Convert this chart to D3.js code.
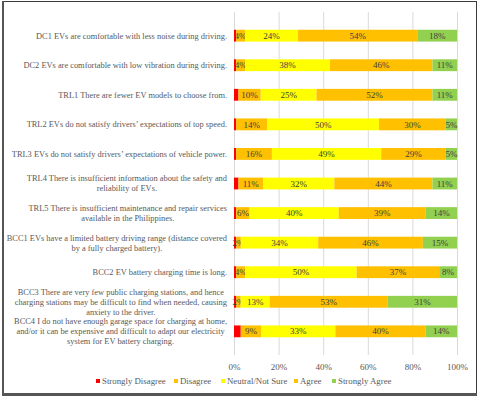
<!DOCTYPE html>
<html>
<head>
<meta charset="utf-8">
<script src="https://cdn.jsdelivr.net/npm/d3@7"></script>
<style>
  body { margin: 0; background: #fff; }
  svg { display: block; }
  svg text { font-family: "Liberation Serif", "Times New Roman", serif; }
</style>
</head>
<body>
<svg id="chart" width="480" height="397"></svg>
<script>
// category labels, one entry per line
const categories = ["DC1","DC2","TRL1","TRL2","TRL3","TRL4","TRL5","BCC1","BCC2","BCC3","BCC4"];
const catLines = [
  ["DC1 EVs are comfortable with less noise during driving."],
  ["DC2 EVs are comfortable with low vibration during driving."],
  ["TRL1 There are fewer EV models to choose from."],
  ["TRL2 EVs do not satisfy drivers\u2019 expectations of top speed."],
  ["TRL3 EVs do not satisfy drivers\u2019 expectations of vehicle power."],
  ["TRL4 There is insufficient information about the safety and", "reliability of EVs."],
  ["TRL5 There is insufficient maintenance and repair services", "available in the Philippines."],
  ["BCC1 EVs have a limited battery driving range (distance covered", "by a fully charged battery)."],
  ["BCC2 EV battery charging time is long."],
  ["BCC3 There are very few public charging stations, and hence", "charging stations may be difficult to find when needed, causing", "anxiety to the driver."],
  ["BCC4 I do not have enough garage space for charging at home,", "and/or it can be expensive and difficult to adapt our electricity", "system for EV battery charging."]
];
const seriesNames = ["Strongly Disagree","Disagree","Neutral/Not Sure","Agree","Strongly Agree"];
const colors = ["#FF0000","#FFC000","#FFFF00","#FFC000","#92D050"];
const stronglyDisagree = [1, 1, 2, 1, 1, 2, 1, 1, 1, 1, 3];
const disagree         = [4, 4, 10, 14, 16, 11, 6, 2, 4, 2, 9];
const neutral          = [24, 38, 25, 50, 49, 32, 40, 34, 50, 13, 33];
const agree            = [54, 46, 52, 30, 29, 44, 39, 46, 37, 53, 40];
const stronglyAgree    = [18, 11, 11, 5, 5, 11, 14, 15, 8, 31, 14];
const xTicks = [0, 0.2, 0.4, 0.6, 0.8, 1];

const svg = d3.select("#chart");

// frame
svg.append("rect").attr("x", 2.5).attr("y", 1.5).attr("width", 474).attr("height", 393)
  .attr("fill", "none").attr("stroke", "#3a3a3a").attr("stroke-width", 1);
svg.append("rect").attr("x", 2).attr("y", 393).attr("width", 475).attr("height", 3).attr("fill", "#555");
svg.append("rect").attr("x", 2).attr("y", 1).attr("width", 2).attr("height", 395).attr("fill", "#555");

const x = d3.scaleLinear().domain([0, 1]).range([234, 457]);
const y = d3.scaleBand().domain(categories).range([12, 355]).padding(0.6);

// gridlines
svg.append("g")
  .attr("transform", "translate(0,355)")
  .call(d3.axisBottom(x).tickValues(xTicks).tickSize(-343).tickFormat(""))
  .call(g => g.select(".domain").remove())
  .call(g => g.selectAll("line").attr("stroke", "#d9d9d9"));

// tick labels
svg.append("g")
  .attr("transform", "translate(0,355)")
  .call(d3.axisBottom(x).tickValues(xTicks).tickSize(0).tickPadding(9).tickFormat(d3.format(".0%")))
  .call(g => g.select(".domain").remove())
  .call(g => g.selectAll("text").attr("fill", "#595959").style("font-size", "9px"));

// stacked data, normalised per row
const rows = categories.map((c, i) => {
  const vals = [stronglyDisagree[i], disagree[i], neutral[i], agree[i], stronglyAgree[i]];
  const tot = d3.sum(vals);
  const r = { cat: c };
  seriesNames.forEach((s, k) => { r[s] = vals[k] / tot; r[s + "_v"] = vals[k]; });
  return r;
});
const stack = d3.stack().keys(seriesNames)(rows);

const layer = svg.selectAll(".layer")
  .data(stack)
  .enter()
  .append("g")
  .attr("class", "layer")
  .attr("fill", (d, i) => colors[i]);

layer.selectAll("rect")
  .data(d => d)
  .enter()
  .append("rect")
  .attr("x", d => x(d[0]))
  .attr("y", d => y(d.data.cat))
  .attr("width", d => x(d[1]) - x(d[0]))
  .attr("height", y.bandwidth());

// value labels (not for strongly disagree)
layer.filter((d, i) => i > 0)
  .selectAll("text")
  .data(d => d.map(p => ({ p: p, key: d.key })))
  .enter()
  .append("text")
  .attr("x", d => (x(d.p[0]) + x(d.p[1])) / 2)
  .attr("y", d => y(d.p.data.cat) + y.bandwidth() / 2)
  .attr("dy", "0.35em")
  .attr("text-anchor", "middle")
  .attr("fill", "#404040")
  .style("font-size", "9px")
  .text(d => d.p.data[d.key + "_v"] + "%");

// category labels
const lineH = 10;
const cats = svg.append("g").selectAll("text")
  .data(categories)
  .enter()
  .append("text")
  .attr("fill", "#595959")
  .style("font-size", "8.4px");
cats.each(function(c, i) {
  const lines = catLines[i];
  const t = d3.select(this);
  const cy = y(c) + y.bandwidth() / 2;
  const y0 = cy - (lines.length - 1) * lineH / 2;
  t.selectAll("tspan").data(lines).enter().append("tspan")
    .attr("y", (l, j) => y0 + j * lineH)
    .attr("dy", "0.35em")
    .text(l => l);
});
// align: block right edge at 227, lines centered within block
cats.each(function() {
  const t = d3.select(this);
  const ws = [];
  t.selectAll("tspan").each(function() { ws.push(this.getComputedTextLength()); });
  const maxW = d3.max(ws);
  const cx = 227 - maxW / 2;
  t.selectAll("tspan").attr("x", cx).attr("text-anchor", "middle");
});

// legend
const legX = [96, 174, 221, 294, 332];
const leg = svg.append("g").selectAll("g")
  .data(seriesNames)
  .enter()
  .append("g")
  .attr("transform", (d, i) => `translate(${legX[i]},381)`);
leg.append("rect").attr("x", 0).attr("y", -2).attr("width", 4).attr("height", 4)
  .attr("fill", (d, i) => colors[i]);
leg.append("text").attr("x", 6).attr("dy", "0.35em").attr("fill", "#595959")
  .style("font-size", "8.8px").text(d => d);
</script>
</body>
</html>
